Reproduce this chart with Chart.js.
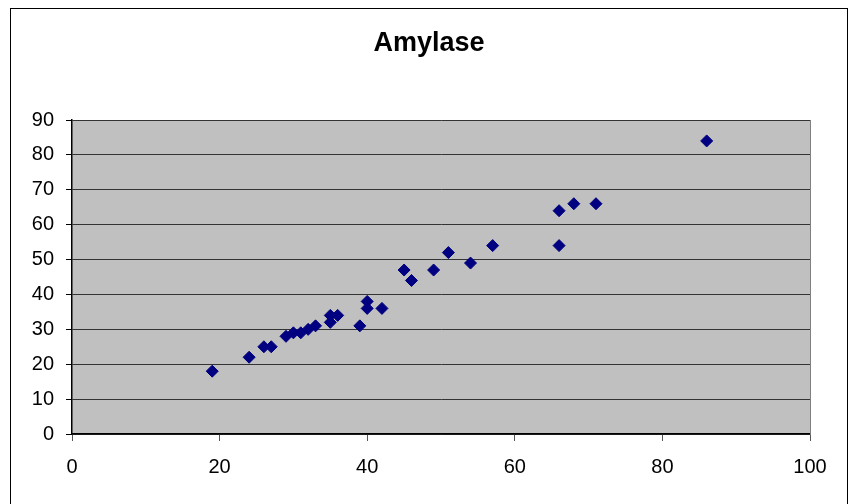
<!DOCTYPE html>
<html>
<head>
<meta charset="utf-8">
<script src="https://cdn.jsdelivr.net/npm/chart.js@4/dist/chart.umd.min.js"></script>
<style>
  html, body { margin: 0; padding: 0; background: #ffffff; }
  canvas { display: block; }
</style>
</head>
<body>
<canvas id="c" width="854" height="504"></canvas>
<script>
const chartTitle = "Amylase";
const xValues = [19, 24, 26, 27, 29, 30, 31, 32, 33, 35, 35, 36, 39, 40, 40, 42, 45, 46, 49, 51, 54, 57, 66, 66, 68, 71, 86];
const yValues = [18, 22, 25, 25, 28, 29, 29, 30, 31, 34, 32, 34, 31, 38, 36, 36, 47, 44, 47, 52, 49, 54, 54, 64, 66, 66, 84];
const xAxisRange = [0, 100, 20];
const yAxisRange = [0, 90, 10];

const points = xValues.map((x, i) => ({ x: x, y: yValues[i] }));

const frame = {
  id: 'frame',
  beforeDraw(chart) {
    const ctx = chart.ctx;
    const a = chart.chartArea;
    ctx.save();
    ctx.fillStyle = '#ffffff';
    ctx.fillRect(0, 0, chart.width, chart.height);
    ctx.strokeStyle = '#000000';
    ctx.lineWidth = 1;
    ctx.strokeRect(10.5, 8.5, 837, 505);
    ctx.fillStyle = '#c0c0c0';
    ctx.fillRect(a.left, a.top, a.right - a.left, a.bottom - a.top);
    ctx.restore();
  }
};

const tickFont = { family: '"Liberation Sans", Arial, sans-serif', size: 20 };

new Chart(document.getElementById('c'), {
  type: 'scatter',
  data: {
    datasets: [{
      label: chartTitle,
      data: points,
      pointStyle: 'rectRot',
      pointRadius: 6,
      pointHoverRadius: 6,
      backgroundColor: '#000080',
      borderColor: '#000080',
      borderWidth: 1
    }]
  },
  options: {
    responsive: false,
    animation: false,
    devicePixelRatio: 1,
    layout: { padding: { left: 10, right: 6, top: 0, bottom: 0 } },
    plugins: {
      legend: { display: false },
      tooltip: { enabled: false },
      title: {
        display: true,
        text: chartTitle,
        color: '#000000',
        font: { family: '"Liberation Sans", Arial, sans-serif', size: 27, weight: 'bold', lineHeight: 1.2 },
        padding: { top: 27, bottom: 60.6 }
      }
    },
    scales: {
      x: {
        type: 'linear',
        position: 'bottom',
        min: xAxisRange[0],
        max: xAxisRange[1],
        ticks: { stepSize: xAxisRange[2], color: '#000000', font: tickFont, padding: 14, maxRotation: 0 },
        grid: { drawOnChartArea: false, drawTicks: true, tickLength: 7, color: '#333333', tickColor: '#555555' },
        border: { display: true, color: '#000000', width: 1.5 },
        afterFit(s) { s.height = 70; }
      },
      y: {
        type: 'linear',
        position: 'left',
        min: yAxisRange[0],
        max: yAxisRange[1],
        ticks: { stepSize: yAxisRange[2], color: '#000000', font: tickFont, padding: 12 },
        grid: { color: '#333333', tickLength: 6, tickColor: '#000000' },
        border: { display: true, color: '#000000', width: 1.5 },
        afterFit(s) { s.width = 62; }
      },
      y2: {
        type: 'linear',
        position: 'right',
        min: yAxisRange[0],
        max: yAxisRange[1],
        ticks: { display: false },
        grid: { display: false, drawTicks: false },
        border: { display: true, color: '#808080', width: 1 },
        afterFit(s) { s.width = 38; }
      }
    }
  },
  plugins: [frame]
});
</script>
</body>
</html>
